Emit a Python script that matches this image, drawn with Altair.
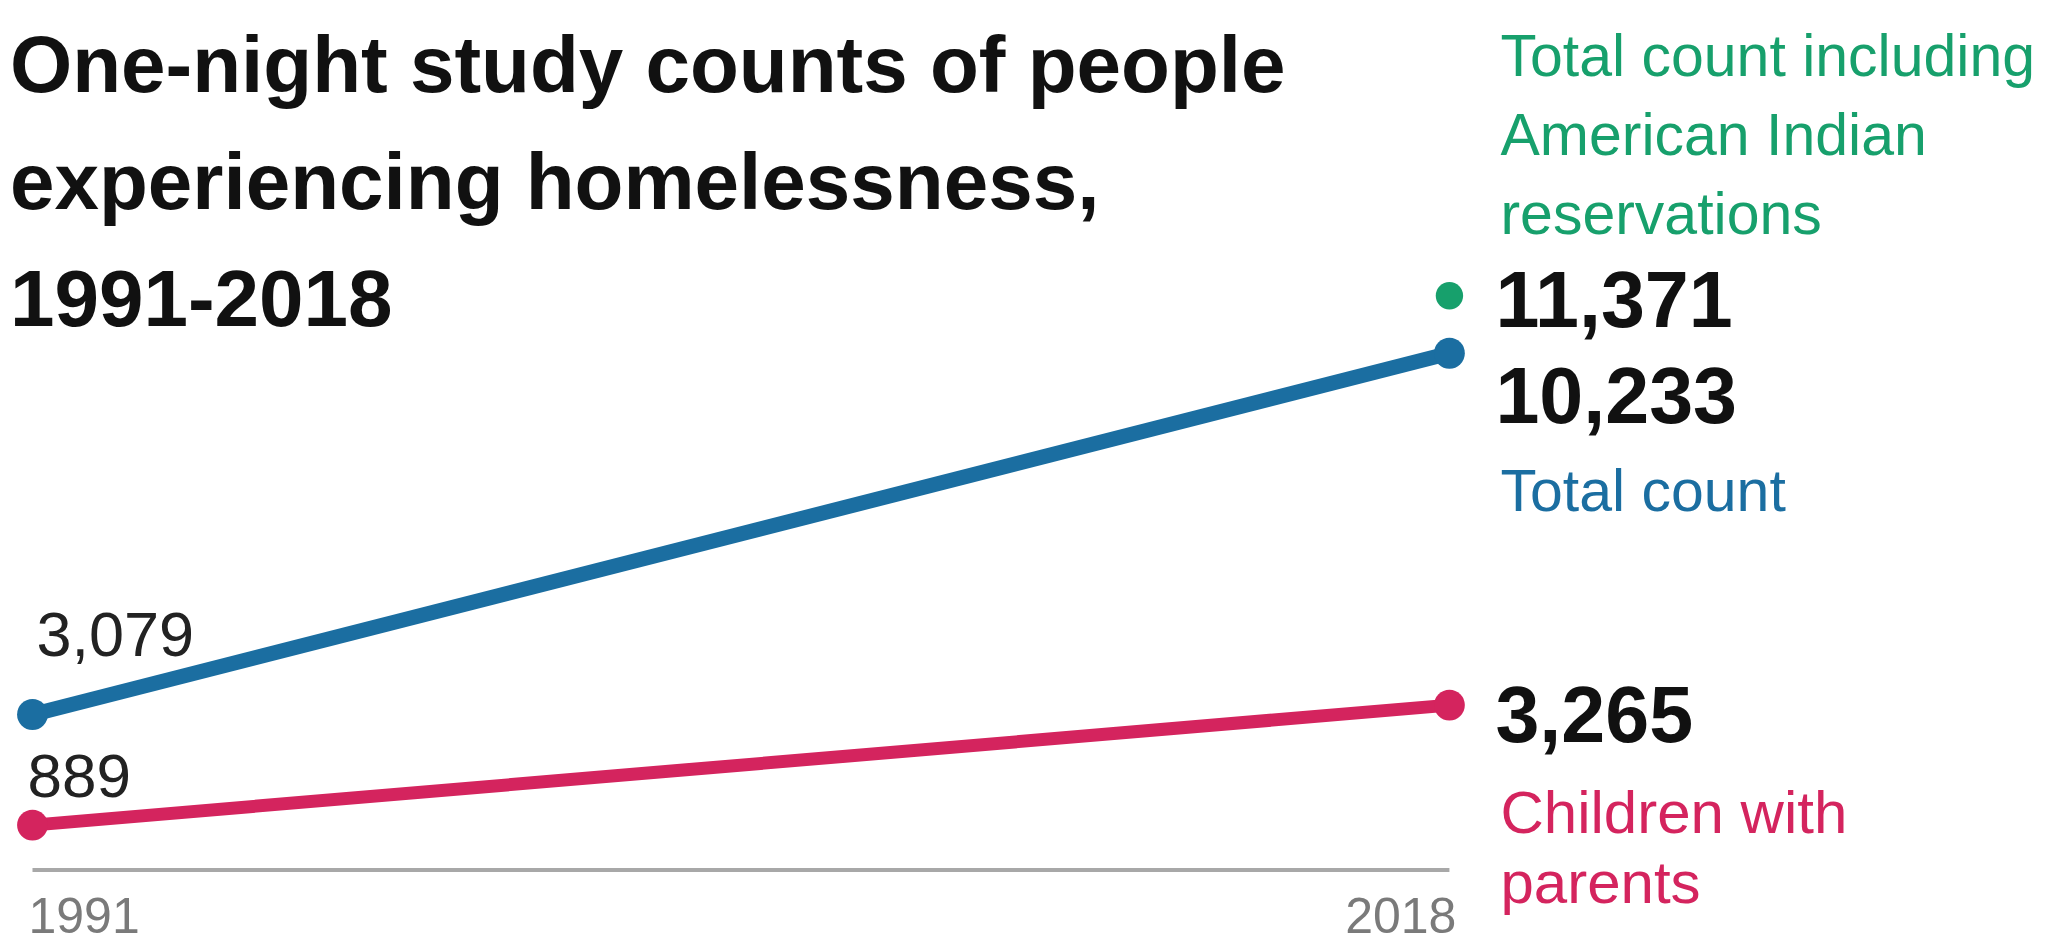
import altair as alt
import pandas as pd

# ---- data ----
years = [1991, 2018]
total_count = [3079, 10233]
children_with_parents = [889, 3265]
incl_year = [2018]
incl_value = [11371]

title_text = "One-night study counts of people\nexperiencing homelessness,\n1991-2018"
label_incl = "Total count including\nAmerican Indian\nreservations"
label_total = "Total count"
label_children = "Children with\nparents"

BLUE = "#1b6ea1"
GREEN = "#17a06c"
PINK = "#d4245e"
NARROW = "Liberation Sans, Arial, sans-serif"
REG = "Liberation Sans, Arial, sans-serif"

W, H = 2051, 946
x_scale = alt.Scale(domain=[1990.381, 2029.463], nice=False, zero=False)
y_scale = alt.Scale(domain=[-1505, 17228], nice=False, zero=False)

total_df = pd.DataFrame({"year": years, "value": total_count})
child_df = pd.DataFrame({"year": years, "value": children_with_parents})
incl_df = pd.DataFrame({"year": incl_year, "value": incl_value})
axis_df = pd.DataFrame({"year": [years[0]], "year2": [years[-1]], "value": [0]})
year_df = pd.DataFrame({"year": years, "value": [0, 0], "label": [str(y) for y in years]})

X = alt.X("year:Q", scale=x_scale, axis=None)
Y = alt.Y("value:Q", scale=y_scale, axis=None)

base_total = alt.Chart(total_df).encode(x=X, y=Y)
base_child = alt.Chart(child_df).encode(x=X, y=Y)
base_incl = alt.Chart(incl_df).encode(x=X, y=Y)

axis_rule = alt.Chart(axis_df).mark_rule(color="#a8a8a8", strokeWidth=4).encode(
    x=X, x2="year2:Q", y=Y)

total_line = base_total.mark_line(color=BLUE, strokeWidth=15)
total_pts = base_total.mark_circle(color=BLUE, size=950, opacity=1)
child_line = base_child.mark_line(color=PINK, strokeWidth=13)
child_pts = base_child.mark_circle(color=PINK, size=950, opacity=1)
incl_pt = base_incl.mark_circle(color=GREEN, size=750, opacity=1)

fmt = alt.Text("value:Q", format=",")

# end labels (2018)
incl_num = base_incl.mark_text(align="left", baseline="alphabetic", dx=46, dy=31,
                               font=REG, fontWeight="bold", fontSize=79, color="#111111").encode(text=fmt)
incl_lbl = base_incl.mark_text(align="left", baseline="alphabetic", dx=51, dy=-220,
                               font=NARROW, fontSize=59, color=GREEN, lineBreak="\n",
                               lineHeight=79).encode(text=alt.value(label_incl))
total_end = alt.Chart(total_df).transform_filter(alt.datum.year == years[-1]).encode(x=X, y=Y)
total_num = total_end.mark_text(align="left", baseline="alphabetic", dx=46, dy=70,
                                font=REG, fontWeight="bold", fontSize=79, color="#111111").encode(text=fmt)
total_lbl = total_end.mark_text(align="left", baseline="alphabetic", dx=51, dy=158,
                                font=NARROW, fontSize=59, color=BLUE).encode(text=alt.value(label_total))
child_end = alt.Chart(child_df).transform_filter(alt.datum.year == years[-1]).encode(x=X, y=Y)
child_num = child_end.mark_text(align="left", baseline="alphabetic", dx=46, dy=37,
                                font=REG, fontWeight="bold", fontSize=79, color="#111111").encode(text=fmt)
child_lbl = child_end.mark_text(align="left", baseline="alphabetic", dx=51, dy=128,
                                font=NARROW, fontSize=60, color=PINK, lineBreak="\n",
                                lineHeight=70).encode(text=alt.value(label_children))

# start labels (1991)
total_start = alt.Chart(total_df).transform_filter(alt.datum.year == years[0]).encode(x=X, y=Y)
total_snum = total_start.mark_text(align="left", baseline="alphabetic", dx=4, dy=-59,
                                   font=REG, fontSize=63, color="#222222").encode(text=fmt)
child_start = alt.Chart(child_df).transform_filter(alt.datum.year == years[0]).encode(x=X, y=Y)
child_snum = child_start.mark_text(align="left", baseline="alphabetic", dx=-5, dy=-28,
                                   font=REG, fontSize=62, color="#222222").encode(text=fmt)

# year labels
year_lbls_l = alt.Chart(year_df).transform_filter(alt.datum.year == years[0]).mark_text(
    align="left", baseline="alphabetic", dx=-4, dy=63, font=REG, fontSize=50, color="#7a7a7a"
).encode(x=X, y=Y, text="label:N")
year_lbls_r = alt.Chart(year_df).transform_filter(alt.datum.year == years[-1]).mark_text(
    align="right", baseline="alphabetic", dx=7, dy=63, font=REG, fontSize=50, color="#7a7a7a"
).encode(x=X, y=Y, text="label:N")

title = alt.Chart(incl_df).mark_text(align="left", baseline="alphabetic", font=NARROW,
                                     fontWeight="bold", fontSize=80, color="#111111",
                                     lineBreak="\n", lineHeight=117).encode(
    x=alt.value(10), y=alt.value(92), text=alt.value(title_text))

chart = alt.layer(
    axis_rule, total_line, child_line, total_pts, child_pts, incl_pt,
    incl_num, incl_lbl, total_num, total_lbl, child_num, child_lbl,
    total_snum, child_snum, year_lbls_l, year_lbls_r, title
).properties(
    width=W, height=H, autosize=alt.AutoSizeParams(type="none"), padding=0,
    background="white"
).configure_view(stroke=None)

chart.save("out.html", embed_options={"renderer": "svg", "actions": False})
